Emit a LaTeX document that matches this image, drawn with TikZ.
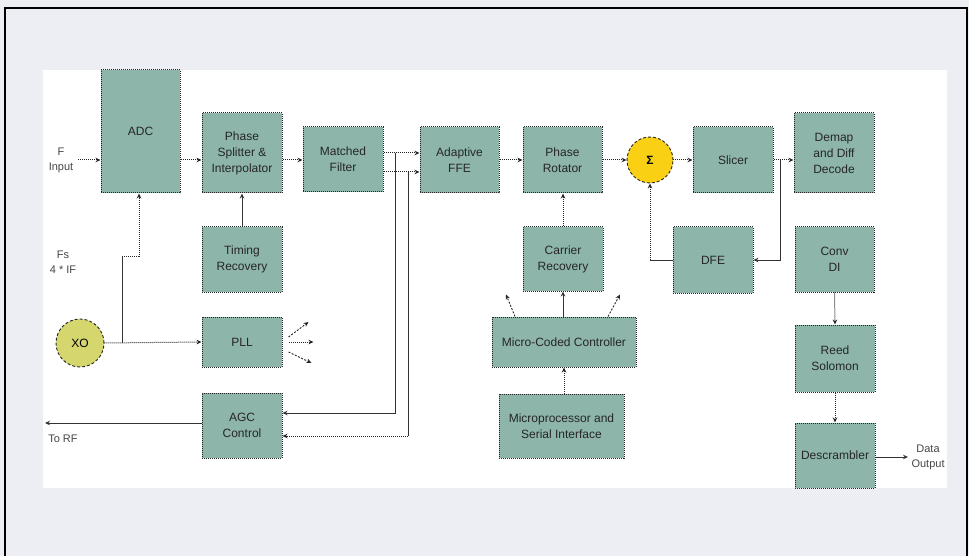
\documentclass[tikz,border=0pt]{standalone}
\usepackage{fontspec}
\setmainfont{Liberation Sans}
\usetikzlibrary{arrows.meta}
\definecolor{bgc}{RGB}{237,238,243}
\definecolor{boxfill}{RGB}{141,181,170}
\definecolor{sumfill}{RGB}{250,208,20}
\definecolor{xofill}{RGB}{214,214,110}
\definecolor{lbl}{RGB}{70,70,70}
\tikzset{
  blk/.style={draw=black!85, densely dotted, line width=1pt, fill=boxfill, align=center,
    inner sep=1pt, font=\fontsize{12}{16}\selectfont, text=black!85},
  circ/.style={circle, draw=black!85, densely dashed, line width=0.9pt, inner sep=0pt,
    minimum size=46pt, font=\fontsize{12}{14}\selectfont},
  lab/.style={align=center, text=lbl, font=\fontsize{11}{15}\selectfont},
  tip/.style={-{Stealth[length=5pt,width=4.5pt]}},
  dotc/.style={densely dotted, line width=1pt, black!85},
  solc/.style={line width=1pt, black!80},
  dashc/.style={line width=0.9pt, black!85, dash pattern=on 2pt off 1.5pt},
}
\begin{document}
\begin{tikzpicture}[x=1pt, y=-1pt]
\useasboundingbox (0,0) rectangle (969,556);
\fill[bgc] (0,0) rectangle (969,556);
\draw[line width=2pt] (5,556) -- (5,8) -- (967,8) -- (967,556);
\fill[white] (43,70) rectangle (947,488);

% blocks
\node[blk, minimum width=79pt, minimum height=123pt] (adc) at (140.5,131.5) {ADC};
\node[blk, minimum width=80pt, minimum height=80pt] (ps) at (242,153) {Phase\\Splitter \&\\Interpolator};
\node[blk, minimum width=80pt, minimum height=65pt] (mf) at (343,159.5) {Matched\\Filter};
\node[blk, minimum width=79pt, minimum height=66pt] (ffe) at (459.5,160) {Adaptive\\FFE};
\node[blk, minimum width=79pt, minimum height=66pt] (pr) at (562.5,160) {Phase\\Rotator};
\node[circ, fill=sumfill] (sum) at (650,160) {\textbf{Σ}};
\node[blk, minimum width=80pt, minimum height=66pt] (slc) at (733,160) {Slicer};
\node[blk, minimum width=80pt, minimum height=80pt] (dmp) at (834,153) {Demap\\and Diff\\Decode};
\node[blk, minimum width=80pt, minimum height=65pt] (tr) at (242,259.5) {Timing\\Recovery};
\node[circ, fill=xofill, minimum size=48pt] (xo) at (80,343) {XO};
\node[blk, minimum width=80pt, minimum height=50pt] (pll) at (242,342) {PLL};
\node[blk, minimum width=80pt, minimum height=65pt] (agc) at (242,425.5) {AGC\\Control};
\node[blk, minimum width=80pt, minimum height=64pt] (cr) at (563,259) {Carrier\\Recovery};
\node[blk, minimum width=144pt, minimum height=50pt] (mcc) at (564,342) {Micro-Coded Controller};
\node[blk, minimum width=125pt, minimum height=64pt] (mp) at (561.5,426) {Microprocessor and\\Serial Interface};
\node[blk, minimum width=80pt, minimum height=66pt] (dfe) at (713,260) {DFE};
\node[blk, minimum width=79pt, minimum height=65pt] (conv) at (834.5,259.5) {Conv\\DI};
\node[blk, minimum width=80pt, minimum height=67pt] (rs) at (835,358.5) {Reed\\Solomon};
\node[blk, minimum width=80pt, minimum height=65pt] (desc) at (835,455.5) {Descrambler};

% labels
\node[lab] (lin) at (61,160) {F\\Input};
\node[lab] (lfs) at (63,262) {Fs\\4 * IF};
\node[lab] (lrf) at (63,439) {To RF};
\node[lab, anchor=west] (lout) at (908,457) {Data\\Output};

% helper coordinates
\coordinate (ml) at (0,160);
\coordinate (ua) at (0,153);
\coordinate (la) at (0,172);
\coordinate (inp) at (78,160);
\coordinate (b1) at (395,153);
\coordinate (b2) at (408,172);
\coordinate (a1) at (0,413);
\coordinate (a2) at (0,436);
\coordinate (xj) at (122,343);
\coordinate (k1) at (122,256);
\coordinate (k2) at (139,256);
\coordinate (torf) at (45,423);
\coordinate (rfy) at (0,423);
\coordinate (sj) at (780,160);
\coordinate (dj) at (650,260);
\coordinate (outp) at (908,457);

% main chain
\draw[dotc, tip] (inp) -- (adc.west |- ml);
\draw[dotc, tip] (adc.east |- ml) -- (ps.west |- ml);
\draw[dotc, tip] (ps.east |- ml) -- (mf.west |- ml);
\draw[dotc, tip] (mf.east |- ua) -- (ffe.west |- ua);
\draw[dotc, tip] (mf.east |- la) -- (ffe.west |- la);
\draw[dotc, tip] (ffe.east |- ml) -- (pr.west |- ml);
\draw[dotc, tip] (pr.east |- ml) -- (sum.west);
\draw[dotc, tip] (sum.east) -- (slc.west |- ml);
\draw[dotc, tip] (slc.east |- ml) -- (dmp.west |- ml);

% AGC feedback
\draw[solc, tip] (b1) |- (agc.east |- a1);
\draw[solc] (b2) -- (b2 |- a2);
\draw[dotc, tip] (b2 |- a2) -- (agc.east |- a2);
\draw[solc, tip] (agc.west |- rfy) -- (torf);

% timing / clock
\draw[solc, tip] (tr.north) -- (ps.south);
\draw[dotc, tip] (xo.east) -- (pll.west);
\draw[solc] (xj) -- (k1);
\draw[dotc, tip] (k1) -- (k2) -- (k2 |- adc.south);

% PLL outputs
\draw[dashc, tip] ([shift={(6,-5)}]pll.east) -- ([shift={(26,-20)}]pll.east);
\draw[dotc, tip] ([shift={(6,0)}]pll.east) -- ([shift={(31,0)}]pll.east);
\draw[dashc, tip] ([shift={(6,10)}]pll.east) -- ([shift={(29,21)}]pll.east);

% carrier loop
\draw[dotc, tip] (cr.north) -- (cr.north |- pr.south);
\draw[solc, tip] (mcc.north -| cr.south) -- (cr.south);
\draw[dashc, tip] ([shift={(-49,0)}]mcc.north) -- ([shift={(-58,-22)}]mcc.north);
\draw[dashc, tip] ([shift={(44,0)}]mcc.north) -- ([shift={(56,-22)}]mcc.north);
\draw[dotc, tip] (mcc.south |- mp.north) -- (mcc.south);

% decision feedback
\draw[solc, tip] (sj) |- (dfe.east);
\draw[solc] (dfe.west) -- (dj);
\draw[dotc, tip] (dj) -- (sum.south);

% decoder chain
\draw[dotc, tip] (conv.south) -- (rs.north);
\draw[dotc, tip] (rs.south) -- (desc.north);
\draw[solc, tip] (desc.east |- outp) -- (outp);
\end{tikzpicture}
\end{document}
